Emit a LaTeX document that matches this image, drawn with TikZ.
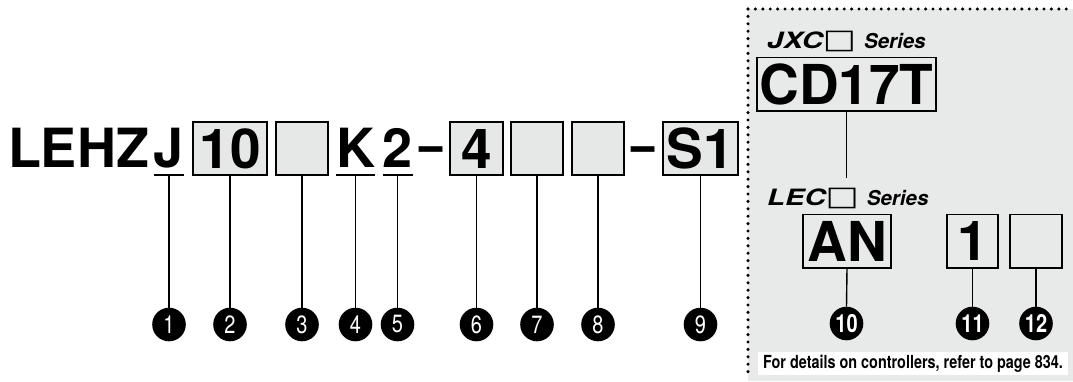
\documentclass[tikz,border=0pt]{standalone}
\usepackage{fontspec}
\setmainfont{TeX Gyre Heros}
\newfontfamily\wideit[FakeStretch=1.3]{TeX Gyre Heros}
\newfontfamily\condf[FakeStretch=0.8]{TeX Gyre Heros}
\newfontfamily\circf[FakeStretch=0.8]{TeX Gyre Heros}
\newfontfamily\symf[FakeStretch=1.3]{DejaVu Sans}
\definecolor{panelgray}{HTML}{E8E9E9}
\definecolor{boxgray}{HTML}{E6E7E7}
\begin{document}
\begin{tikzpicture}[x=1pt,y=-1pt,
  big/.style={inner sep=0pt, font=\fontsize{54}{54}\selectfont\bfseries},
  codebox/.style={draw, line width=1.6pt, fill=boxgray, inner sep=0pt,
    minimum height=53.4pt, font=\fontsize{55}{55}\selectfont\bfseries},
  ctrlbox/.style={codebox, fill=panelgray},
  num/.style={shape=circle, inner sep=0pt, outer sep=0pt,
    minimum size=34pt, text=white,
    font=\circf\fontsize{25}{25}\selectfont},
  numb/.style={num, font=\circf\fontsize{25}{25}\selectfont\bfseries},
  disc/.style={fill=black},
  conn/.style={line width=1.4pt},
  uline/.style={line width=1.6pt},
  series/.style={inner sep=0pt, anchor=base west},
  dotline/.style={line width=3.4pt, line cap=round, dash pattern=on 0pt off 7.4pt},
]
\useasboundingbox (0,0) rectangle (1073,381);

% right panel
\fill[panelgray] (748,9) rectangle (1073,381);
\coordinate (pc) at (748,9);
\coordinate (pb) at (748,377);
\coordinate (pr) at (1073,9);
\draw[dotline] (pc) -- (pb);
\draw[dotline] (pc) -- (pr);

% main code
\node[big, anchor=base] (lehz) at (78.5,167) {LEHZ};
\node[big, anchor=base] (tJ) at (169,167) {J};
\node[codebox, minimum width=74.5pt] (b10) at (230,148.5) {10};
\node[codebox, minimum width=52.5pt] (b3) at (302,148.5) {};
\node[big, anchor=base] (tK) at (355.5,167) {K};
\node[big, anchor=base] (t2) at (397.5,167) {2};
\node[big, anchor=base] (d1) at (431.5,163) {\scalebox{0.78}[1]{–}};
\node[codebox, minimum width=53.5pt] (b4) at (476.5,148.5) {4};
\node[codebox, minimum width=52.5pt] (b7) at (537,148.5) {};
\node[codebox, minimum width=52.5pt] (b8) at (598,148.5) {};
\node[big, anchor=base] (d2) at (643,163) {\scalebox{0.78}[1]{–}};
\node[codebox, minimum width=75.5pt] (bS) at (700.5,148.5) {S1};

% underlines
\coordinate (uJa) at (154,175); \coordinate (uJb) at (184,175); \coordinate (uJ) at (169,175);
\coordinate (uKa) at (336,175); \coordinate (uKb) at (375,175); \coordinate (uK) at (355.5,175);
\coordinate (u2a) at (383,175); \coordinate (u2b) at (413,175); \coordinate (u2) at (397.5,175);
\draw[uline] (uJa) -- (uJb);
\draw[uline] (uKa) -- (uKb);
\draw[uline] (u2a) -- (u2b);

% circle centres
\coordinate (p1) at (169,324.5);
\coordinate (p2) at (230,324.5);
\coordinate (p3) at (302,324.5);
\coordinate (p4) at (355.5,324.5);
\coordinate (p5) at (397.5,324.5);
\coordinate (p6) at (476.5,324.5);
\coordinate (p7) at (537,324.5);
\coordinate (p8) at (598,324.5);
\coordinate (p9) at (700.5,324.5);
\coordinate (p10) at (846.5,323.5);
\coordinate (p11) at (972.5,323.5);
\coordinate (p12) at (1036,323.5);
\foreach \p in {p1,p2,p3,p4,p5,p6,p7,p8,p9,p10,p11,p12}
  \fill[disc] (\p) circle[radius=16.8pt];

% number labels
\node[num] (c1) at (p1) {1};
\node[num] (c2) at (p2) {2};
\node[num] (c3) at (p3) {3};
\node[num] (c4) at (p4) {4};
\node[num] (c5) at (p5) {5};
\node[num] (c6) at (p6) {6};
\node[num] (c7) at (p7) {7};
\node[num] (c8) at (p8) {8};
\node[num] (c9) at (p9) {9};

\draw[conn] (uJ) -- (c1.north);
\draw[conn] (b10.south) -- (c2.north);
\draw[conn] (b3.south) -- (c3.north);
\draw[conn] (uK) -- (c4.north);
\draw[conn] (u2) -- (c5.north);
\draw[conn] (b4.south) -- (c6.north);
\draw[conn] (b7.south) -- (c7.north);
\draw[conn] (b8.south) -- (c8.north);
\draw[conn] (bS.south) -- (c9.north);

% controller part
\node[series] (jxc) at (767,48) {{\wideit\bfseries\itshape\fontsize{22.5}{22.5}\selectfont JXC}{\symf\fontsize{27}{27}\selectfont □}\hspace{8pt}{\bfseries\itshape\fontsize{20.5}{20.5}\selectfont Series}};
\node[ctrlbox, minimum width=179.5pt] (bCD) at (846.5,84) {CD17T};
\coordinate (cdend) at (846.5,178);
\draw[conn] (bCD.south) -- (cdend);
\node[series] (lec) at (767,205) {{\wideit\bfseries\itshape\fontsize{22.5}{22.5}\selectfont LEC}{\symf\fontsize{27}{27}\selectfont □}\hspace{8pt}{\bfseries\itshape\fontsize{20.5}{20.5}\selectfont Series}};
\node[ctrlbox, minimum width=88.5pt] (bAN) at (847,241) {AN};
\node[ctrlbox, minimum width=51.5pt] (b1) at (972.5,241) {1};
\node[ctrlbox, minimum width=52.5pt] (b12) at (1036,241) {};

\node[numb] (c10) at (p10) {10};
\node[numb] (c11) at (p11) {11};
\node[numb] (c12) at (p12) {12};
\draw[conn] (bAN.south) -- (c10.north);
\draw[conn] (b1.south) -- (c11.north);
\draw[conn] (b12.south) -- (c12.north);

\node[fill=white, inner sep=0pt, minimum width=310pt, minimum height=23pt,
  font=\condf\bfseries\fontsize{18}{18}\selectfont] (note) at (913,363.5)
  {For details on controllers, refer to page 834.};
\end{tikzpicture}
\end{document}
